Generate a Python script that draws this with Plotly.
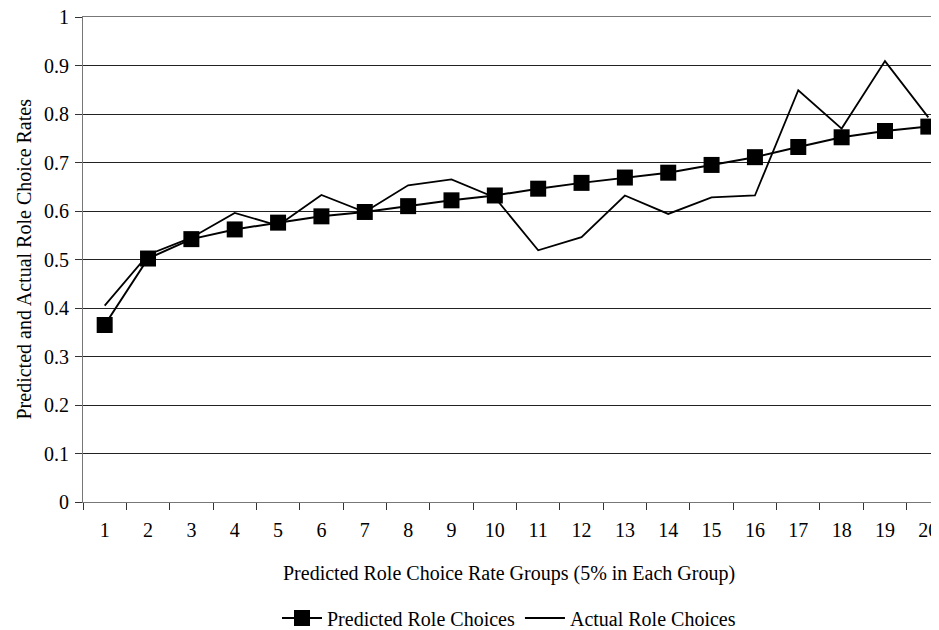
import plotly.graph_objects as go

groups = [str(i) for i in range(1, 21)]
predicted = [0.365, 0.502, 0.542, 0.562, 0.576, 0.589, 0.598, 0.610, 0.622, 0.632,
             0.646, 0.658, 0.669, 0.679, 0.695, 0.711, 0.732, 0.752, 0.765, 0.774]
actual = [0.405, 0.510, 0.545, 0.596, 0.570, 0.633, 0.598, 0.653, 0.665, 0.628,
          0.519, 0.546, 0.632, 0.594, 0.628, 0.632, 0.849, 0.770, 0.909, 0.793]
y_ticks = [0, 0.1, 0.2, 0.3, 0.4, 0.5, 0.6, 0.7, 0.8, 0.9, 1]
y_labels = ["0", "0.1", "0.2", "0.3", "0.4", "0.5", "0.6", "0.7", "0.8", "0.9", "1"]

FONT = "Liberation Serif"
FS = 20

# the page body adds an 8px offset; figure coordinates are screen - 8
OFF = 8
W, H = 950 - OFF, 630 - OFF
L, T, B = 83 - OFF, 17 - OFF, H - (502 - OFF)
PW = W - L
PH = H - T - B

fig = go.Figure()
fig.add_trace(go.Scatter(
    x=groups, y=predicted, name="Predicted Role Choices",
    mode="lines+markers",
    line=dict(color="black", width=2),
    marker=dict(symbol="square", size=16, color="black"),
))
fig.add_trace(go.Scatter(
    x=groups, y=actual, name="Actual Role Choices",
    mode="lines",
    line=dict(color="black", width=1.8),
))

fig.update_layout(
    width=W, height=H,
    margin=dict(l=L, r=0, t=T, b=B, autoexpand=False),
    paper_bgcolor="white", plot_bgcolor="white",
    font=dict(family=FONT, size=FS, color="black"),
    showlegend=True,
    legend=dict(
        orientation="h", xref="container", yref="container",
        x=(509 - OFF) / W, xanchor="center", y=1 - (618 - OFF) / H, yanchor="middle",
        font=dict(family=FONT, size=FS), itemwidth=40,
        bgcolor="rgba(0,0,0,0)",
    ),
    xaxis=dict(
        type="category", range=[-0.5, 19.5], automargin=False,
        tickson="boundaries", ticks="outside", ticklen=7, tickcolor="#333",
        showline=True, linecolor="#777", linewidth=1, mirror=True,
        showgrid=False, zeroline=False, ticklabelstandoff=10,
        ticklabeloverflow="allow",
        tickfont=dict(family=FONT, size=FS),
    ),
    yaxis=dict(
        range=[0, 1], tickvals=y_ticks, ticktext=y_labels, automargin=False,
        ticks="outside", ticklen=7, tickcolor="#333",
        showline=True, linecolor="#777", linewidth=1,
        showgrid=True, gridcolor="#222", gridwidth=1,
        zeroline=False, ticklabelstandoff=2, ticklabeloverflow="allow",
        tickfont=dict(family=FONT, size=FS),
    ),
    annotations=[
        dict(text="Predicted Role Choice Rate Groups (5% in Each Group)",
             xref="paper", yref="paper", x=(509 - 83) / PW, y=-(573 - 502) / PH,
             xanchor="center", yanchor="middle", showarrow=False,
             font=dict(family=FONT, size=FS)),
        dict(text="Predicted and Actual Role Choice Rates",
             xref="paper", yref="paper", x=-(83 - 23) / PW, y=0.5,
             xanchor="center", yanchor="middle", showarrow=False, textangle=-90,
             font=dict(family=FONT, size=FS)),
    ],
)

fig.write_html("out.html")
